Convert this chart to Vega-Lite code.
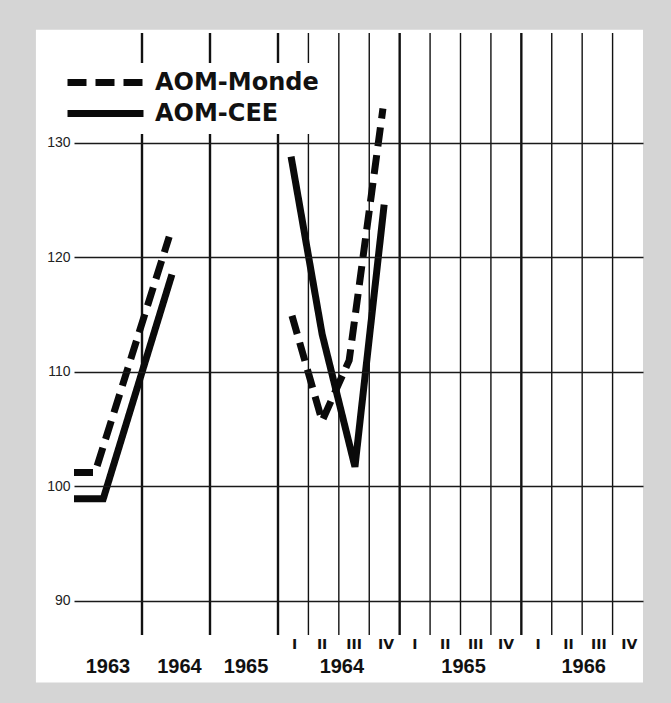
{
  "$schema": "https://vega.github.io/schema/vega-lite/v6.json",
  "width": 569,
  "height": 602,
  "autosize": {"type": "none"},
  "padding": {"left": 74, "top": 33, "right": 28, "bottom": 68},
  "background": "#d5d5d5",
  "config": {"view": {"stroke": null}},
  "datasets": {
    "series": [
      {"series": "AOM-Monde", "part": "annual", "t": 0, "v": 101.2},
      {"series": "AOM-Monde", "part": "annual", "t": 0.31, "v": 101.2},
      {"series": "AOM-Monde", "part": "annual", "t": 1.4, "v": 121.8},
      {"series": "AOM-CEE", "part": "annual", "t": 0, "v": 98.9},
      {"series": "AOM-CEE", "part": "annual", "t": 0.43, "v": 98.9},
      {"series": "AOM-CEE", "part": "annual", "t": 1.44, "v": 118.5},
      {"series": "AOM-Monde", "part": "quarterly", "t": 3.46, "v": 114.9},
      {"series": "AOM-Monde", "part": "quarterly", "t": 4.45, "v": 105.7},
      {"series": "AOM-Monde", "part": "quarterly", "t": 5.34, "v": 111.0},
      {"series": "AOM-Monde", "part": "quarterly", "t": 6.45, "v": 133.0},
      {"series": "AOM-CEE", "part": "quarterly", "t": 3.43, "v": 128.8},
      {"series": "AOM-CEE", "part": "quarterly", "t": 4.45, "v": 113.3},
      {"series": "AOM-CEE", "part": "quarterly", "t": 5.53, "v": 101.7},
      {"series": "AOM-CEE", "part": "quarterly", "t": 6.49, "v": 124.6}
    ],
    "dividers": [
      {"t": 1, "kind": "year"}, {"t": 2, "kind": "year"}, {"t": 3, "kind": "year"},
      {"t": 4, "kind": "quarter"}, {"t": 5, "kind": "quarter"}, {"t": 6, "kind": "quarter"},
      {"t": 7, "kind": "year"},
      {"t": 8, "kind": "quarter"}, {"t": 9, "kind": "quarter"}, {"t": 10, "kind": "quarter"},
      {"t": 11, "kind": "year"},
      {"t": 12, "kind": "quarter"}, {"t": 13, "kind": "quarter"}, {"t": 14, "kind": "quarter"}
    ],
    "quarters": [
      {"t": 3.55, "label": "I"}, {"t": 4.45, "label": "II"}, {"t": 5.5, "label": "III"}, {"t": 6.55, "label": "IV"},
      {"t": 7.5, "label": "I"}, {"t": 8.5, "label": "II"}, {"t": 9.5, "label": "III"}, {"t": 10.5, "label": "IV"},
      {"t": 11.55, "label": "I"}, {"t": 12.55, "label": "II"}, {"t": 13.55, "label": "III"}, {"t": 14.55, "label": "IV"}
    ],
    "years": [
      {"t": 0.5, "label": "1963"}, {"t": 1.55, "label": "1964"}, {"t": 2.53, "label": "1965"},
      {"t": 5.1, "label": "1964"}, {"t": 9.1, "label": "1965"}, {"t": 13.05, "label": "1966"}
    ]
  },
  "layer": [
    {
      "data": {"values": [{}]},
      "mark": {"type": "rect", "color": "white"},
      "encoding": {
        "x": {"datum": -0.56, "type": "quantitative", "scale": {"domain": [0, 3, 15], "range": [0, 204, 569], "zero": false, "nice": false}, "axis": null},
        "x2": {"datum": 15},
        "y": {"datum": 82.84, "type": "quantitative", "scale": {"domain": [87, 139.6], "zero": false, "nice": false}},
        "y2": {"datum": 139.89}
      }
    },
    {
      "data": {"name": "dividers"},
      "mark": {"type": "rule", "color": "#111"},
      "encoding": {
        "x": {"field": "t", "type": "quantitative"},
        "strokeWidth": {"field": "kind", "type": "nominal", "scale": {"domain": ["year", "quarter"], "range": [2.4, 1.4]}, "legend": null}
      }
    },
    {
      "data": {"name": "series"},
      "mark": {"type": "line", "color": "#0a0a0a", "strokeWidth": 7, "strokeCap": "butt", "strokeJoin": "miter"},
      "encoding": {
        "x": {"field": "t", "type": "quantitative"},
        "y": {"field": "v", "type": "quantitative",
          "axis": {"values": [90, 100, 110, 120, 130], "title": null, "ticks": false, "domain": false, "grid": true, "gridColor": "#1a1a1a", "gridWidth": 1.3, "gridOpacity": 1, "labelFont": "Liberation Sans", "labelFontSize": 14, "labelColor": "#222", "labelPadding": 4, "zindex": 1}},
        "detail": {"field": "part"},
        "strokeDash": {"field": "series", "type": "nominal",
          "scale": {"domain": ["AOM-Monde", "AOM-CEE"], "range": [[19, 9], [1, 0]]},
          "legend": {"title": null, "orient": "none", "legendX": 12, "legendY": 30, "symbolType": "M-3.8,0H3.8", "symbolSize": 400, "symbolStrokeWidth": 7, "symbolStrokeColor": "#0a0a0a", "labelFont": "DejaVu Sans", "labelFontWeight": "bold", "labelFontSize": 24, "labelColor": "#111", "labelOffset": 36, "labelLimit": 400, "fillColor": "white", "padding": 6, "rowPadding": 2}
        }
      }
    },
    {
      "data": {"name": "quarters"},
      "mark": {"type": "text", "font": "DejaVu Sans", "fontWeight": "bold", "fontSize": 14, "color": "#111", "baseline": "middle", "dy": 10},
      "encoding": {
        "x": {"field": "t", "type": "quantitative"},
        "y": {"datum": 87, "type": "quantitative"},
        "text": {"field": "label"}
      }
    },
    {
      "data": {"name": "years"},
      "mark": {"type": "text", "font": "Liberation Sans", "fontWeight": "bold", "fontSize": 20, "color": "#111", "baseline": "middle", "dy": 32},
      "encoding": {
        "x": {"field": "t", "type": "quantitative"},
        "y": {"datum": 87, "type": "quantitative"},
        "text": {"field": "label"}
      }
    }
  ]
}
